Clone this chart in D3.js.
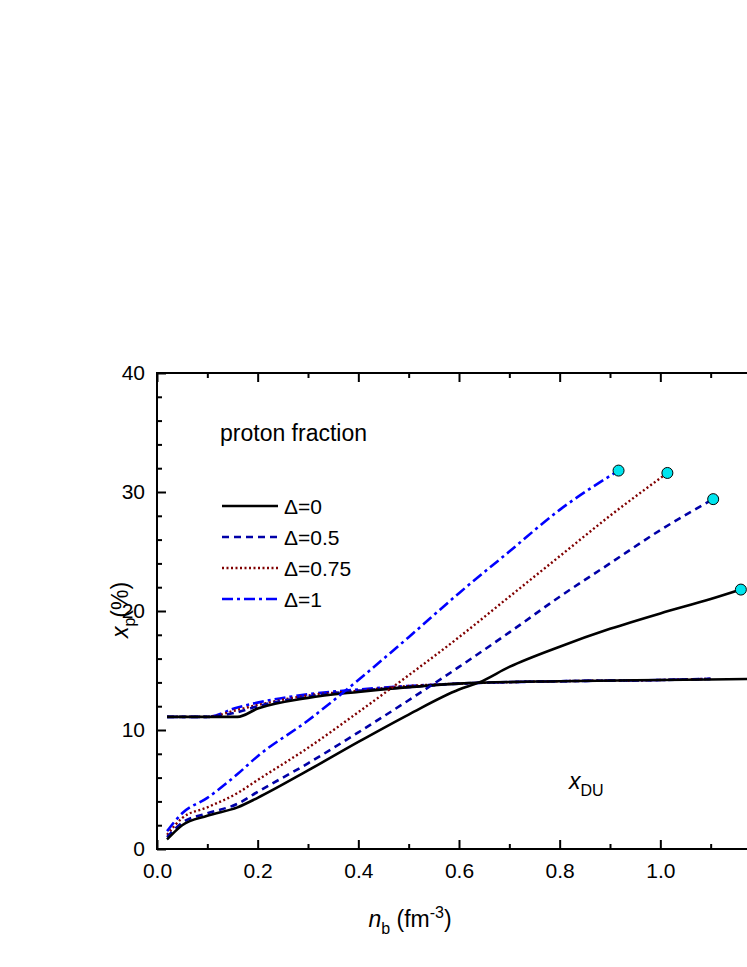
<!DOCTYPE html>
<html>
<head>
<meta charset="utf-8">
<script src="https://cdn.jsdelivr.net/npm/d3@7"></script>
<style>
  body { margin: 0; background: #fff; }
  svg { display: block; font-family: Arial, "Liberation Sans", sans-serif; }
</style>
</head>
<body>
<div id="chart"></div>
<script>
// proton fraction curves, x = n_b (fm^-3), y = x_p (%)
var nb0 = [0.02, 0.05, 0.1, 0.16, 0.2, 0.3, 0.4, 0.5, 0.6, 0.64, 0.7, 0.8, 0.9, 1.0, 1.1, 1.16];
var xp0 = [0.8, 2.0, 2.8, 3.5, 4.3, 6.6, 9.0, 11.3, 13.4, 14.0, 15.3, 17.0, 18.5, 19.8, 21.0, 21.8];
var nb05 = [0.02, 0.05, 0.1, 0.16, 0.2, 0.3, 0.4, 0.5, 0.6, 0.7, 0.8, 0.9, 1.0, 1.105];
var xp05 = [1.0, 2.2, 3.0, 3.8, 4.8, 7.2, 9.8, 12.5, 15.3, 18.2, 21.2, 24.0, 26.8, 29.4];
var nb075 = [0.02, 0.05, 0.1, 0.16, 0.2, 0.3, 0.4, 0.5, 0.6, 0.7, 0.8, 0.9, 1.014];
var xp075 = [1.2, 2.6, 3.5, 4.7, 5.8, 8.5, 11.5, 14.6, 17.8, 21.2, 24.6, 28.0, 31.6];
var nb1 = [0.02, 0.05, 0.1, 0.16, 0.2, 0.3, 0.4, 0.5, 0.6, 0.7, 0.8, 0.917];
var xp1 = [1.5, 3.0, 4.3, 6.3, 7.8, 10.8, 14.2, 17.8, 21.5, 25.0, 28.5, 31.8];

// direct Urca threshold curves
var nbDU0 = [0.02, 0.1, 0.16, 0.2, 0.3, 0.4, 0.5, 0.6, 0.8, 1.0, 1.2];
var xDU0 = [11.1, 11.1, 11.1, 11.8, 12.7, 13.2, 13.6, 13.9, 14.1, 14.2, 14.3];
var nbDU = [0.02, 0.1, 0.16, 0.2, 0.3, 0.4, 0.5, 0.6, 0.8, 1.0, 1.1];
var xDU05 = [11.1, 11.1, 11.5, 12.0, 12.8, 13.3, 13.6, 13.9, 14.1, 14.2, 14.3];
var xDU075 = [11.1, 11.1, 11.7, 12.1, 12.9, 13.3, 13.7, 13.9, 14.1, 14.2, 14.3];
var xDU1 = [11.1, 11.1, 11.9, 12.3, 13.0, 13.4, 13.7, 13.9, 14.1, 14.2, 14.3];

var xTicks = [0, 0.2, 0.4, 0.6, 0.8, 1.0, 1.2];
var yTicks = [0, 10, 20, 30, 40];

var svgWidth = 747, svgHeight = 967;
var pLeft = 157, pTop = 373, pRight = 761, pBottom = 849;

var svg = d3.select("#chart").append("svg")
  .attr("width", svgWidth).attr("height", svgHeight);

var x = d3.scaleLinear().domain([0, 1.2]).range([pLeft, pRight]);
var y = d3.scaleLinear().domain([0, 40]).range([pBottom, pTop]);

var styles = [
  { color: "#000", dash: null, w: 2.6 },
  { color: "#0000a8", dash: "7,5", w: 2.6 },
  { color: "#800000", dash: "2,2.5", w: 2.4 },
  { color: "#0000ff", dash: "11,4,3,4", w: 2.6 }
];
var mains = [[nb0, xp0], [nb05, xp05], [nb075, xp075], [nb1, xp1]];
var dus = [[nbDU0, xDU0], [nbDU, xDU05], [nbDU, xDU075], [nbDU, xDU1]];

var line = d3.line().curve(d3.curveMonotoneX).x(d => x(d[0])).y(d => y(d[1]));

function draw(set, i) {
  var pts = set[0].map((v, k) => [v, set[1][k]]);
  svg.append("path").attr("d", line(pts))
    .attr("fill", "none").attr("stroke", styles[i].color)
    .attr("stroke-width", styles[i].w)
    .attr("stroke-dasharray", styles[i].dash);
  return pts;
}
[3, 2, 1, 0].forEach(i => draw(dus[i], i));
var ends = [3, 2, 1, 0].map(i => { var p = draw(mains[i], i); return p[p.length - 1]; });

svg.selectAll(".dot").data(ends).enter().append("circle")
  .attr("cx", d => x(d[0])).attr("cy", d => y(d[1])).attr("r", 5.5)
  .attr("fill", "#00e5ee").attr("stroke", "#000").attr("stroke-width", 1);

// frame
svg.append("rect").attr("x", pLeft).attr("y", pTop)
  .attr("width", pRight - pLeft).attr("height", pBottom - pTop)
  .attr("fill", "none").attr("stroke", "#000").attr("stroke-width", 2);

// ticks, inward
var xAxisB = d3.axisBottom(x).tickValues(xTicks).tickFormat(d3.format(".1f")).tickSize(-9).tickPadding(14);
var xAxisT = d3.axisTop(x).tickValues(xTicks).tickFormat("").tickSize(-9);
var yAxisL = d3.axisLeft(y).tickValues(yTicks).tickSize(-9).tickPadding(12);
var xMinor = d3.range(0.1, 1.2, 0.2);
var yMinor = d3.range(0, 41, 2).filter(v => v % 10 !== 0);

function styleAxis(g) {
  g.attr("font-family", null).attr("font-size", 21);
  g.select(".domain").remove();
  g.selectAll("line").attr("stroke", "#000").attr("stroke-width", 2);
  g.selectAll("text").attr("fill", "#000");
}
svg.append("g").attr("transform", `translate(0,${pBottom})`).call(xAxisB).call(styleAxis);
svg.append("g").attr("transform", `translate(0,${pTop})`).call(xAxisT).call(styleAxis);
svg.append("g").attr("transform", `translate(${pLeft},0)`).call(yAxisL).call(styleAxis);
svg.append("g").attr("transform", `translate(0,${pBottom})`)
  .call(d3.axisBottom(x).tickValues(xMinor).tickFormat("").tickSize(-5)).call(styleAxis);
svg.append("g").attr("transform", `translate(0,${pTop})`)
  .call(d3.axisTop(x).tickValues(xMinor).tickFormat("").tickSize(-5)).call(styleAxis);
svg.append("g").attr("transform", `translate(${pLeft},0)`)
  .call(d3.axisLeft(y).tickValues(yMinor).tickFormat("").tickSize(-5)).call(styleAxis);

// texts
svg.append("text").attr("x", 220).attr("y", 441).attr("font-size", 23).text("proton fraction");

var legendLabels = ["Δ=0", "Δ=0.5", "Δ=0.75", "Δ=1"];
legendLabels.forEach(function(lab, i) {
  var ly = 506 + i * 31;
  svg.append("line").attr("x1", 222).attr("x2", 278).attr("y1", ly).attr("y2", ly)
    .attr("stroke", styles[i].color).attr("stroke-width", styles[i].w)
    .attr("stroke-dasharray", styles[i].dash);
  svg.append("text").attr("x", 284).attr("y", ly + 8).attr("font-size", 21).text(lab);
});

var du = svg.append("text").attr("x", 569).attr("y", 789).attr("font-size", 23);
du.append("tspan").attr("font-style", "italic").text("x");
du.append("tspan").attr("font-size", 16).attr("dy", 7).text("DU");

var yl = svg.append("text").attr("transform", "translate(128,610) rotate(-90)")
  .attr("text-anchor", "middle").attr("font-size", 23);
yl.append("tspan").attr("font-style", "italic").text("x");
yl.append("tspan").attr("font-size", 16).attr("dy", 7).text("p");
yl.append("tspan").attr("dy", -7).text("(%)");

var xl = svg.append("text").attr("x", 410).attr("y", 927)
  .attr("text-anchor", "middle").attr("font-size", 23);
xl.append("tspan").attr("font-style", "italic").text("n");
xl.append("tspan").attr("font-size", 16).attr("dy", 7).text("b");
xl.append("tspan").attr("dy", -7).text(" (fm");
xl.append("tspan").attr("font-size", 16).attr("dy", -9).text("-3");
xl.append("tspan").attr("dy", 9).text(")");
</script>
</body>
</html>
